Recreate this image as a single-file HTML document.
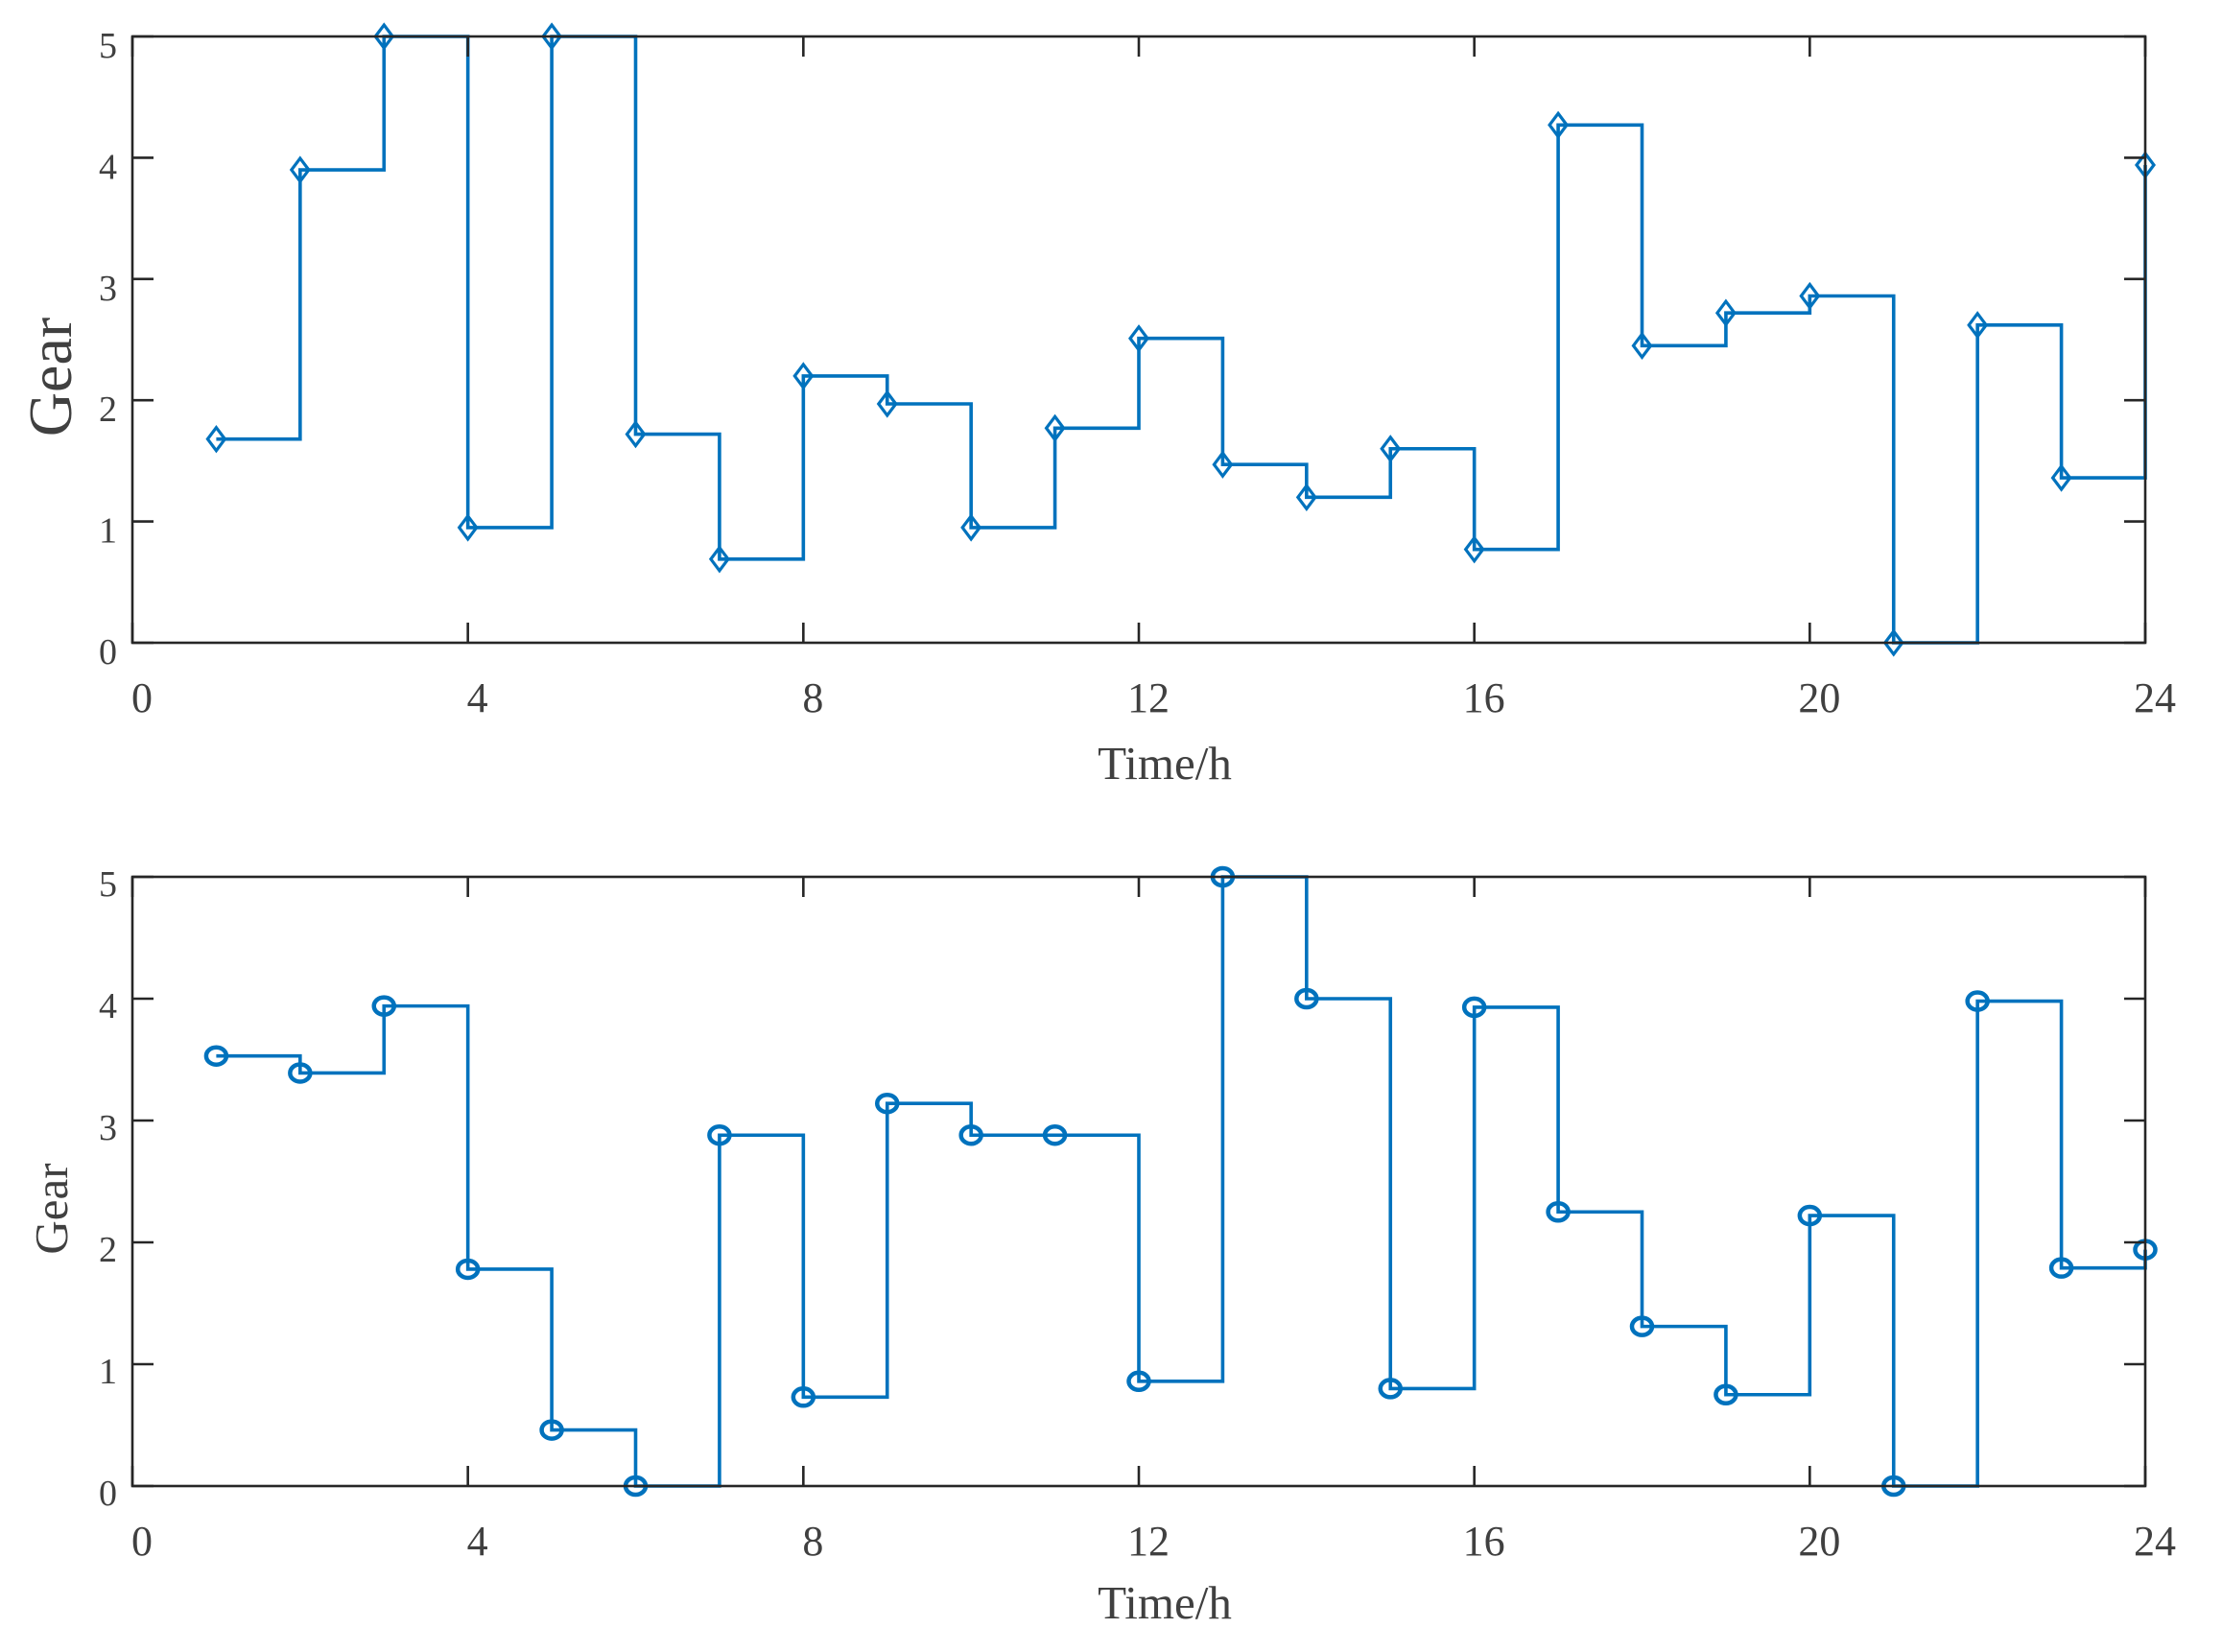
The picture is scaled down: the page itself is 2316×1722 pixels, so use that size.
<!DOCTYPE html>
<html><head><meta charset="utf-8"><style>
html,body{margin:0;padding:0;background:#fff;}
svg{display:block;}
text{font-family:"Liberation Serif",serif;fill:#404040;}
</style></head><body>
<svg id="chart" width="2316" height="1722" viewBox="0 0 2316 1722" xmlns="http://www.w3.org/2000/svg">
<rect width="2316" height="1722" fill="#fff"/>
</svg>
<script>
const hours = [1,2,3,4,5,6,7,8,9,10,11,12,13,14,15,16,17,18,19,20,21,22,23,24];
const gearTop = [1.68,3.9,5,0.95,5,1.72,0.69,2.2,1.97,0.95,1.77,2.51,1.47,1.2,1.6,0.77,4.27,2.45,2.72,2.86,0,2.62,1.36,3.94];
const gearBottom = [3.53,3.39,3.94,1.78,0.46,0,2.88,0.73,3.14,2.88,2.88,0.86,5,4,0.8,3.93,2.25,1.31,0.75,2.22,0,3.98,1.79,1.94];
const xTicks = [0,4,8,12,16,20,24];
const yTicks = [0,1,2,3,4,5];

const NS='http://www.w3.org/2000/svg';
const svg=document.getElementById('chart');
function mk(tag,attrs,parent){const e=document.createElementNS(NS,tag);for(const k in attrs)e.setAttribute(k,attrs[k]);(parent||svg).appendChild(e);return e;}

function panel(opts){
  const L=138,R=2236,T=opts.top,B=opts.bottom;
  const xs=v=>L+(v-0)/(24-0)*(R-L);
  const ys=v=>B-(v-0)/(5-0)*(B-T);
  const g=mk('g',{});
  
  
  // series line (stairs)
  let d='';
  const vals=opts.values;
  for(let i=0;i<hours.length;i++){
    const x=xs(hours[i]),y=ys(vals[i]);
    if(i===0)d+='M'+x+' '+y;
    else d+=' V'+y;
    if(i<hours.length-1)d+=' H'+xs(hours[i+1]);
  }
  const line=mk('path',{d:d,fill:'none',stroke:'#0072BD','stroke-width':3.6},g);
  
  
  for(let i=0;i<hours.length;i++){
    const x=xs(hours[i]),y=ys(vals[i]);
    let m;
    if(opts.marker==='diamond'){
      m=mk('path',{d:`M${x} ${y-12} L${x+9} ${y} L${x} ${y+12} L${x-9} ${y} Z`,fill:'none',stroke:'#0072BD','stroke-width':3.2},g);
    }else{
      m=mk('ellipse',{cx:x,cy:y,rx:10.5,ry:9,fill:'none',stroke:'#0072BD','stroke-width':4.5},g);
    }
    
    
  }
  // axes box
  const box=mk('rect',{x:L,y:T,width:R-L,height:B-T,fill:'none',stroke:'#262626','stroke-width':2.6},g);
  
  
  xTicks.forEach(v=>{
    const x=xs(v);
    mk('line',{x1:x,y1:B,x2:x,y2:B-21,stroke:'#262626','stroke-width':2.6},g);
    mk('line',{x1:x,y1:T,x2:x,y2:T+21,stroke:'#262626','stroke-width':2.6},g);
    const t=mk('text',{x:x+10,y:B+72,'text-anchor':'middle','font-size':44},g);
    t.textContent=v;
    
    
  });
  yTicks.forEach(v=>{
    const y=ys(v);
    mk('line',{x1:L,y1:y,x2:L+22,y2:y,stroke:'#262626','stroke-width':2.6},g);
    mk('line',{x1:R,y1:y,x2:R-22,y2:y,stroke:'#262626','stroke-width':2.6},g);
    const t=mk('text',{x:122,y:y+opts.ylabOff,'text-anchor':'end','font-size':38},g);
    t.textContent=v;
    
    
  });
  const xt=mk('text',{x:1214,y:B+opts.xtitleOff,'text-anchor':'middle','font-size':49},g);
  xt.textContent='Time/h';
  
  
  const yt=mk('text',{x:0,y:0,'text-anchor':'middle','font-size':opts.gearSize,transform:`translate(${opts.gearX},${opts.gearY}) rotate(-90)`},g);
  yt.textContent='Gear';
  
  
}
panel({name:'top-panel',top:38,bottom:670,values:gearTop,marker:'diamond',ylabOff:22,xtitleOff:142,gearSize:64,gearX:74,gearY:393});
panel({name:'bottom-panel',top:914,bottom:1549,values:gearBottom,marker:'circle',ylabOff:20,xtitleOff:138,gearSize:49,gearX:70,gearY:1260});
</script>
</body></html>
